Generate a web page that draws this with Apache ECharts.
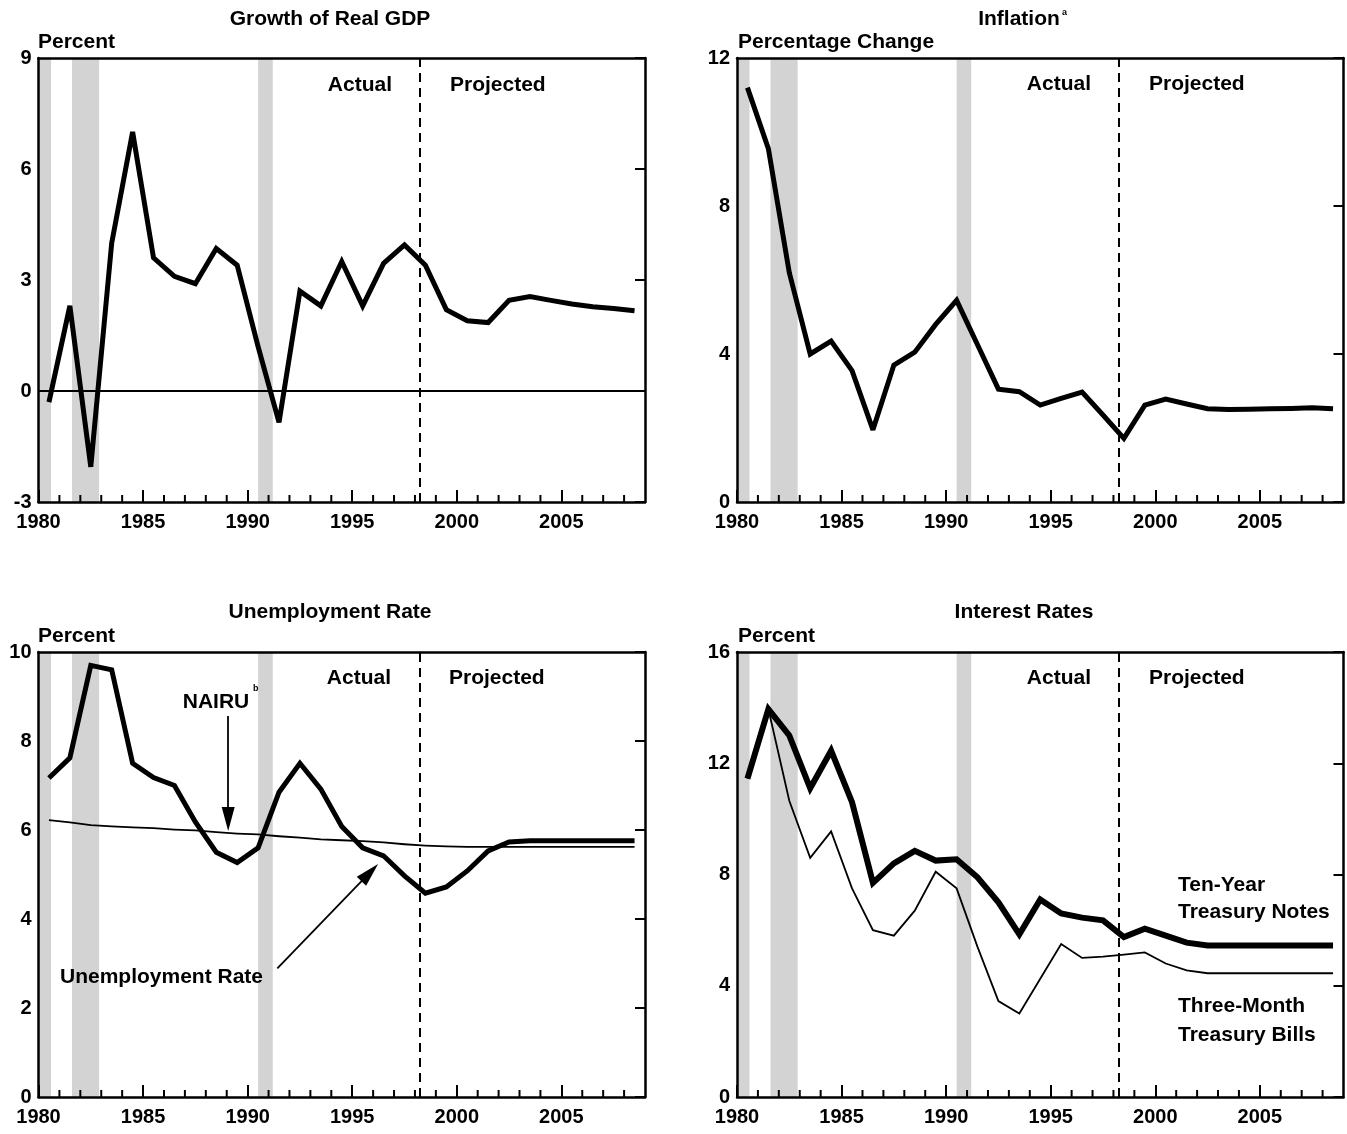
<!DOCTYPE html>
<html>
<head>
<meta charset="utf-8">
<title>Economic Projections</title>
<script src="https://cdn.jsdelivr.net/npm/echarts@6.0.0/dist/echarts.min.js"></script>
<style>
  html, body { margin: 0; padding: 0; background: #fff; }
  #main { width: 1347px; height: 1134px; }
</style>
</head>
<body>
<div id="main"></div>
<script>
// values are plotted at mid-year
const years = [1980.5, 1981.5, 1982.5, 1983.5, 1984.5, 1985.5, 1986.5, 1987.5, 1988.5, 1989.5,
  1990.5, 1991.5, 1992.5, 1993.5, 1994.5, 1995.5, 1996.5, 1997.5, 1998.5, 1999.5,
  2000.5, 2001.5, 2002.5, 2003.5, 2004.5, 2005.5, 2006.5, 2007.5, 2008.5];
const yearLabels = [1980, 1985, 1990, 1995, 2000, 2005];
const minorTickYears = [1981, 1982, 1983, 1984, 1986, 1987, 1988, 1989, 1991, 1992, 1993, 1994,
  1996, 1997, 1998, 1999, 2001, 2002, 2003, 2004, 2006, 2007, 2008];
const recessionStart = [1980.0, 1981.6, 1990.5];
const recessionEnd = [1980.6, 1982.9, 1991.2];
const projectionStart = 1998.25;

const gdpTicks = [-3, 0, 3, 6, 9];
const inflationTicks = [0, 4, 8, 12];
const unemploymentTicks = [0, 2, 4, 6, 8, 10];
const interestTicks = [0, 4, 8, 12, 16];

const gdpGrowth = [-0.3, 2.3, -2.05, 4.0, 7.0, 3.6, 3.1, 2.9, 3.85, 3.4,
  1.2, -0.85, 2.7, 2.3, 3.5, 2.3, 3.45, 3.95, 3.4, 2.2,
  1.9, 1.85, 2.45, 2.55, 2.45, 2.35, 2.28, 2.23, 2.17];
const inflation = [11.2, 9.55, 6.2, 4.0, 4.35, 3.55, 1.95, 3.7, 4.05, 4.8,
  5.45, 4.25, 3.05, 2.98, 2.62, 2.8, 2.97, 2.35, 1.72, 2.62,
  2.78, 2.65, 2.52, 2.5, 2.51, 2.52, 2.53, 2.55, 2.52];
const unemployment = [7.17, 7.62, 9.7, 9.6, 7.5, 7.18, 7.0, 6.18, 5.5, 5.27,
  5.6, 6.85, 7.5, 6.92, 6.08, 5.6, 5.42, 4.97, 4.58, 4.72,
  5.08, 5.53, 5.73, 5.76, 5.76, 5.76, 5.76, 5.76, 5.76];
const nairu = [6.22, 6.17, 6.11, 6.08, 6.06, 6.04, 6.01, 5.99, 5.95, 5.92,
  5.9, 5.86, 5.83, 5.79, 5.77, 5.75, 5.72, 5.68, 5.65, 5.63,
  5.62, 5.62, 5.62, 5.62, 5.62, 5.62, 5.62, 5.62, 5.62];
const tenYearNotes = [11.45, 13.95, 13.0, 11.1, 12.45, 10.6, 7.7, 8.4, 8.85, 8.5,
  8.55, 7.9, 7.0, 5.85, 7.1, 6.6, 6.45, 6.35, 5.75, 6.05,
  5.8, 5.55, 5.45, 5.45, 5.45, 5.45, 5.45, 5.45, 5.45];
const threeMonthBills = [11.45, 13.95, 10.65, 8.6, 9.55, 7.5, 6.0, 5.8, 6.7, 8.1,
  7.5, 5.4, 3.45, 3.0, 4.25, 5.5, 5.0, 5.05, 5.12, 5.2,
  4.8, 4.55, 4.45, 4.45, 4.45, 4.45, 4.45, 4.45, 4.45];

const FONT = '"Liberation Sans", Arial, Helvetica, sans-serif';
const ARROW = 'path://M6,0L12,22L0,22Z';

const panels = [
  { left: 38.5, top: 58, height: 444, ticks: gdpTicks },
  { left: 737, top: 58, height: 444, ticks: inflationTicks },
  { left: 38.5, top: 652, height: 445, ticks: unemploymentTicks },
  { left: 737, top: 652, height: 445, ticks: interestTicks }
];
const PANEL_W = 606.5;

const pairs = vals => years.map((y, i) => [y, vals[i]]);

const grids = [], xAxes = [], yAxes = [];
const frame = { show: true, onZero: false, lineStyle: { color: '#000', width: 2.5 } };

panels.forEach((p, i) => {
  grids.push({ left: p.left, top: p.top, width: PANEL_W, height: p.height, outerBoundsMode: 'none', containLabel: false });
  xAxes.push({
    gridIndex: i, type: 'value', position: 'bottom', min: 1980, max: 2009, interval: 5, z: 10,
    axisLine: frame,
    axisTick: { show: true, inside: true, length: 12, lineStyle: { color: '#000', width: 2 } },
    axisLabel: {
      color: '#000', fontSize: 20, fontWeight: 'bold', fontFamily: FONT, margin: 10,
      showMaxLabel: false, showMinLabel: true,
      formatter: v => (yearLabels.indexOf(v) >= 0 ? String(v) : '')
    },
    splitLine: { show: false }
  });
  xAxes.push({
    gridIndex: i, type: 'value', position: 'top', min: 1980, max: 2009, z: 10,
    axisLine: frame, axisTick: { show: false }, axisLabel: { show: false }, splitLine: { show: false }
  });
  const t = p.ticks;
  yAxes.push({
    gridIndex: i, type: 'value', position: 'left', min: t[0], max: t[t.length - 1], interval: t[1] - t[0], z: 10,
    axisLine: frame, axisTick: { show: false },
    axisLabel: { color: '#000', fontSize: 20, fontWeight: 'bold', fontFamily: FONT, margin: 7, padding: [10, 0, 0, 0] },
    splitLine: { show: false }
  });
  yAxes.push({
    gridIndex: i, type: 'value', position: 'right', min: t[0], max: t[t.length - 1], interval: t[1] - t[0], z: 10,
    axisLine: frame,
    axisTick: { show: true, inside: true, length: 10, lineStyle: { color: '#000', width: 2 } },
    axisLabel: { show: false }, splitLine: { show: false }
  });
});

const bands = {
  silent: true,
  itemStyle: { color: '#d3d3d3' },
  data: recessionStart.map((s, i) => [{ xAxis: s }, { xAxis: recessionEnd[i] }])
};
const projLine = { xAxis: projectionStart, lineStyle: { type: [9, 6], width: 2, color: '#000' } };
const markLineBase = { silent: true, symbol: ['none', 'none'], label: { show: false }, animation: false };

function lineSeries(name, i, vals, width, extra) {
  return Object.assign({
    name: name, type: 'line', xAxisIndex: i * 2, yAxisIndex: i * 2, data: pairs(vals),
    symbol: 'none', z: 3, animation: false, silent: true,
    lineStyle: { color: '#000', width: width, join: 'miter', miterLimit: 2.5 }
  }, extra || {});
}

// short yearly ticks along the bottom axis, placed through the axis scale
function minorTicks(i) {
  const yMin = panels[i].ticks[0];
  return {
    type: 'custom', xAxisIndex: i * 2, yAxisIndex: i * 2, z: 12, silent: true, clip: false,
    animation: false, encode: { x: 0 },
    data: minorTickYears.map(y => [y]),
    renderItem: (params, api) => {
      const pt = api.coord([api.value(0), yMin]);
      return {
        type: 'line',
        shape: { x1: pt[0], y1: pt[1], x2: pt[0], y2: pt[1] - 7 },
        style: { stroke: '#000', lineWidth: 2 }
      };
    }
  };
}

const series = [
  lineSeries('Growth of Real GDP', 0, gdpGrowth, 5, {
    markArea: bands,
    markLine: Object.assign({}, markLineBase, {
      data: [projLine, { yAxis: 0, lineStyle: { type: 'solid', width: 1.8, color: '#000' } }]
    })
  }),
  lineSeries('Inflation', 1, inflation, 5, {
    markArea: bands,
    markLine: Object.assign({}, markLineBase, { data: [projLine] })
  }),
  lineSeries('Unemployment Rate', 2, unemployment, 5, {
    markArea: bands,
    markLine: Object.assign({}, markLineBase, { data: [projLine] })
  }),
  lineSeries('NAIRU', 2, nairu, 1.8, {
    markLine: Object.assign({}, markLineBase, {
      lineStyle: { color: '#000', width: 1.8, type: 'solid' },
      data: [
        [{ coord: [1989.07, 8.56], symbol: 'none' }, { coord: [1989.07, 6.25], symbol: ARROW, symbolSize: [13, 24] }],
        [{ coord: [1991.42, 2.89], symbol: 'none' }, { coord: [1995.84, 5.04], symbol: ARROW, symbolSize: [13, 24] }]
      ]
    })
  }),
  lineSeries('Ten-Year Treasury Notes', 3, tenYearNotes, 6, {
    markArea: bands,
    markLine: Object.assign({}, markLineBase, { data: [projLine] })
  }),
  lineSeries('Three-Month Treasury Bills', 3, threeMonthBills, 1.8),
  minorTicks(0), minorTicks(1), minorTicks(2), minorTicks(3)
];

function text(str, x, y, align, size) {
  return {
    type: 'text', x: x, y: y, silent: true, z: 20,
    style: {
      text: str, fill: '#000', font: 'bold ' + (size || 21) + 'px ' + FONT,
      align: align || 'left', verticalAlign: 'middle'
    }
  };
}

const graphic = [
  text('Growth of Real GDP', 330, 19, 'center'),
  text('Inflation', 1019, 19, 'center'),
  text('a', 1062, 13, 'left', 9),
  text('Unemployment Rate', 330, 612, 'center'),
  text('Interest Rates', 1024, 612, 'center'),
  text('Percent', 38, 42),
  text('Percentage Change', 738, 42),
  text('Percent', 38, 636),
  text('Percent', 738, 636),
  text('Actual', 392, 85, 'right'),
  text('Projected', 450, 85),
  text('Actual', 1091, 84, 'right'),
  text('Projected', 1149, 84),
  text('Actual', 391, 678, 'right'),
  text('Projected', 449, 678),
  text('Actual', 1091, 678, 'right'),
  text('Projected', 1149, 678),
  text('NAIRU', 216, 702, 'center'),
  text('b', 253, 689, 'left', 9),
  text('Unemployment Rate', 60, 977),
  text('Ten-Year', 1178, 885),
  text('Treasury Notes', 1178, 912),
  text('Three-Month', 1178, 1006),
  text('Treasury Bills', 1178, 1035)
];

const chart = echarts.init(document.getElementById('main'), null, { renderer: 'canvas' });
chart.setOption({
  backgroundColor: '#fff',
  animation: false,
  grid: grids,
  xAxis: xAxes,
  yAxis: yAxes,
  series: series,
  graphic: graphic
});
</script>
</body>
</html>
